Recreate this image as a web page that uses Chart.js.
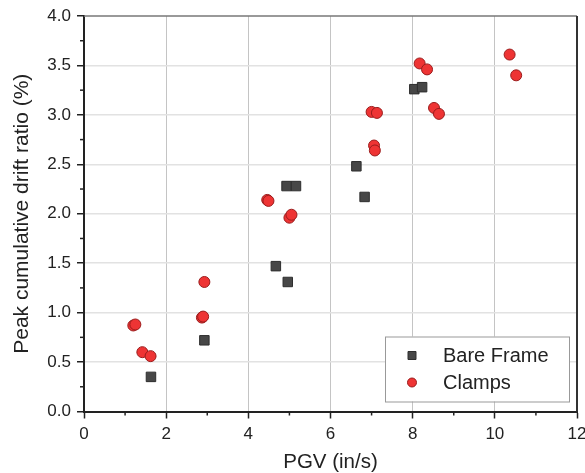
<!DOCTYPE html>
<html>
<head>
<meta charset="utf-8">
<script src="https://cdn.jsdelivr.net/npm/chart.js@4"></script>
<style>
  html, body { margin: 0; padding: 0; background: #fff; }
  #wrap { width: 585px; height: 473px; }
</style>
</head>
<body>
<div id="wrap"><canvas id="myChart" width="585" height="473"></canvas></div>
<script>
// values
const bareX = [1.63, 2.93, 4.67, 4.96, 4.93, 5.16, 6.63, 6.83, 8.04, 8.23];
const bareY = [0.35, 0.72, 1.47, 1.31, 2.28, 2.28, 2.48, 2.17, 3.26, 3.28];
const clampX = [1.20, 1.25, 1.42, 1.62, 2.87, 2.90, 2.93, 4.46, 4.49, 5.00, 5.05, 7.00, 7.13, 7.06, 7.08, 8.17, 8.35, 8.52, 8.64, 10.36, 10.52];
const clampY = [0.87, 0.88, 0.60, 0.56, 0.95, 0.96, 1.31, 2.14, 2.13, 1.96, 1.99, 3.03, 3.02, 2.69, 2.64, 3.52, 3.46, 3.07, 3.01, 3.61, 3.40];
const xTicks = [0, 2, 4, 6, 8, 10, 12];
const yTicks = ['0.0', '0.5', '1.0', '1.5', '2.0', '2.5', '3.0', '3.5', '4.0'];
const seriesNames = ['Bare Frame', 'Clamps'];

const FONT = '"Liberation Sans", Arial, sans-serif';

function toPoints(xs, ys) {
  return xs.map((x, i) => ({ x: x, y: ys[i] }));
}

// box on top/right, minor ticks and the inside legend
const framePlugin = {
  id: 'frame',
  afterDraw(chart) {
    const ctx = chart.ctx;
    const a = chart.chartArea;
    const xs = chart.scales.x, ys = chart.scales.y;
    ctx.save();
    // minor ticks
    ctx.strokeStyle = '#222';
    ctx.lineWidth = 1.5;
    for (let v = 1; v < 12; v += 2) {
      const px = xs.getPixelForValue(v);
      ctx.beginPath(); ctx.moveTo(px, a.bottom); ctx.lineTo(px, a.bottom + 4); ctx.stroke();
    }
    for (let v = 0.25; v < 4; v += 0.5) {
      const py = ys.getPixelForValue(v);
      ctx.beginPath(); ctx.moveTo(a.left, py); ctx.lineTo(a.left - 4, py); ctx.stroke();
    }
    // top and right frame
    ctx.strokeStyle = '#777';
    ctx.lineWidth = 1.5;
    ctx.beginPath(); ctx.moveTo(a.left, a.top); ctx.lineTo(a.right, a.top); ctx.stroke();
    ctx.strokeStyle = '#333';
    ctx.lineWidth = 2;
    ctx.beginPath(); ctx.moveTo(a.right, a.top); ctx.lineTo(a.right, a.bottom); ctx.stroke();

    // legend
    const bw = 184, bh = 65;
    const bx = a.right - 8 - bw, by = a.bottom - 10 - bh;
    ctx.fillStyle = '#fff';
    ctx.fillRect(bx, by, bw, bh);
    ctx.strokeStyle = '#999';
    ctx.lineWidth = 1;
    ctx.strokeRect(bx + 0.5, by + 0.5, bw, bh);
    chart.data.datasets.forEach((ds, i) => {
      const cy = by + 19 + i * 27;
      const cx = bx + 27;
      ctx.fillStyle = ds.backgroundColor;
      ctx.strokeStyle = ds.borderColor;
      ctx.lineWidth = 1;
      ctx.beginPath();
      if (ds.pointStyle === 'rect') {
        ctx.rect(cx - 4, cy - 4, 8, 8);
      } else {
        ctx.arc(cx, cy, 4.5, 0, Math.PI * 2);
      }
      ctx.fill(); ctx.stroke();
      ctx.fillStyle = '#222';
      ctx.font = '20px ' + FONT;
      ctx.textBaseline = 'middle';
      ctx.fillText(ds.label, bx + 58, cy + 1);
    });
    ctx.restore();
  }
};

const ctx = document.getElementById('myChart').getContext('2d');
const myChart = new Chart(ctx, {
  type: 'scatter',
  data: {
    datasets: [
      {
        label: seriesNames[0],
        data: toPoints(bareX, bareY),
        pointStyle: 'rect',
        pointRadius: 6.7,
        backgroundColor: '#474747',
        borderColor: '#2e2e2e',
        borderWidth: 1
      },
      {
        label: seriesNames[1],
        data: toPoints(clampX, clampY),
        pointStyle: 'circle',
        pointRadius: 5.5,
        backgroundColor: '#ee3434',
        borderColor: '#9a1c1c',
        borderWidth: 1
      }
    ]
  },
  options: {
    responsive: false,
    animation: false,
    layout: { padding: { left: 0, top: 16, right: 8, bottom: 0 } },
    plugins: {
      legend: { display: false },
      tooltip: { enabled: false }
    },
    scales: {
      x: {
        type: 'linear',
        min: 0,
        max: 12,
        afterBuildTicks: (scale) => { scale.ticks = xTicks.map(v => ({ value: v })); },
        afterFit: (scale) => { scale.height = 61.5; scale.paddingLeft = 0; scale.paddingRight = 0; },
        ticks: {
          color: '#222',
          font: { family: FONT, size: 17 },
          padding: 6,
          maxRotation: 0
        },
        grid: {
          color: (c) => (c.tick && (c.tick.value === 0 || c.tick.value === 12)) ? 'rgba(0,0,0,0)' : '#c4c4c4',
          lineWidth: 1,
          tickColor: '#222',
          tickLength: 7,
          tickWidth: 1.5
        },
        border: { color: '#222', width: 2 },
        title: {
          display: true,
          text: 'PGV (in/s)',
          color: '#222',
          font: { family: FONT, size: 20.5, lineHeight: 1 },
          padding: { top: 0, bottom: 0 }
        }
      },
      y: {
        min: 0,
        max: 4,
        afterBuildTicks: (scale) => { scale.ticks = yTicks.map(t => ({ value: parseFloat(t) })); },
        afterFit: (scale) => { scale.width = 84; scale.paddingTop = 0; scale.paddingBottom = 0; },
        ticks: {
          color: '#222',
          font: { family: FONT, size: 17 },
          padding: 6,
          callback: (v, i) => yTicks[i]
        },
        grid: {
          color: (c) => (c.tick && (c.tick.value === 0 || c.tick.value === 4)) ? 'rgba(0,0,0,0)' : '#e2e2e2',
          lineWidth: 1.5,
          tickColor: '#222',
          tickLength: 7,
          tickWidth: 1.5
        },
        border: { color: '#222', width: 2 },
        title: {
          display: true,
          text: 'Peak cumulative drift ratio (%)',
          color: '#222',
          font: { family: FONT, size: 21, lineHeight: 1 },
          padding: { top: 12, bottom: 0 }
        }
      }
    }
  },
  plugins: [framePlugin]
});
</script>
</body>
</html>
